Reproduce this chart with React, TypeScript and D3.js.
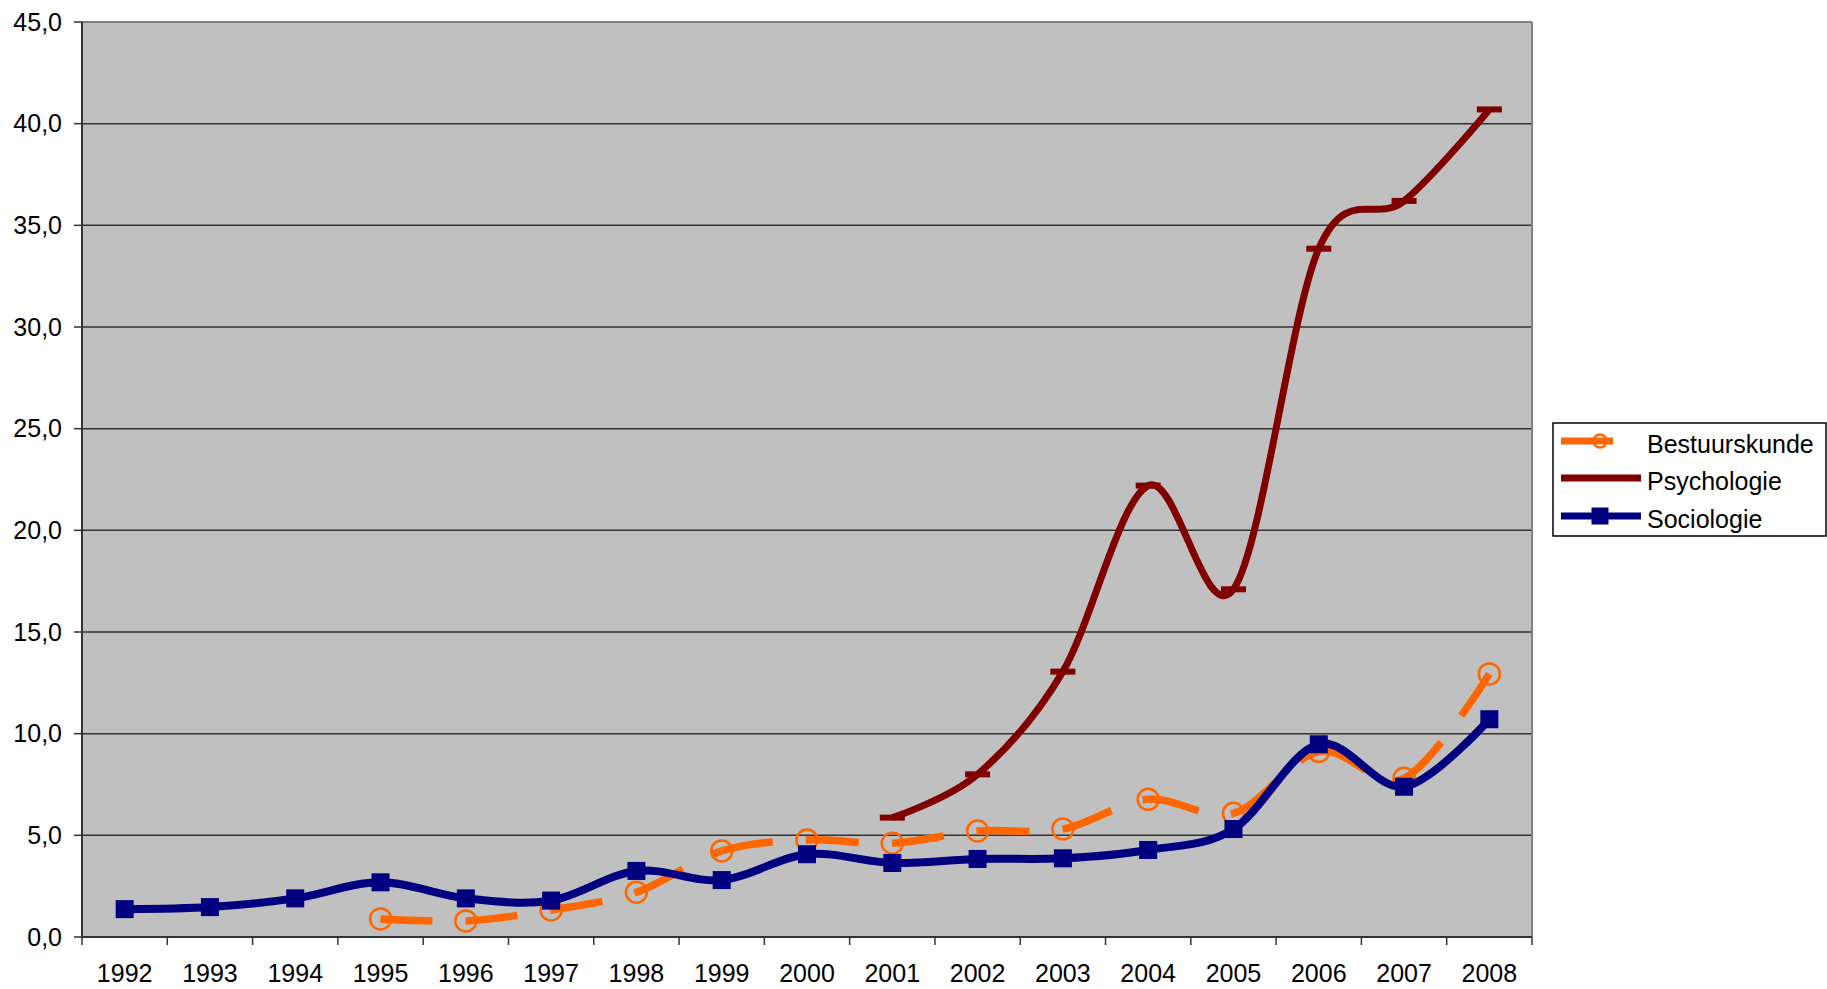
import React from "react";
import * as d3 from "d3";

const years = ["1992","1993","1994","1995","1996","1997","1998","1999","2000","2001","2002","2003","2004","2005","2006","2007","2008"];
const bestuurskunde: (number | null)[] = [null, null, null, 0.89, 0.79, 1.33, 2.2, 4.23, 4.77, 4.61, 5.21, 5.31, 6.77, 6.08, 9.12, 7.81, 12.94];
const psychologie: (number | null)[] = [null, null, null, null, null, null, null, null, null, 5.87, 8.0, 13.05, 22.2, 17.1, 33.85, 36.2, 40.7];
const sociologie: (number | null)[] = [1.37, 1.47, 1.9, 2.69, 1.9, 1.79, 3.25, 2.8, 4.07, 3.64, 3.84, 3.87, 4.28, 5.31, 9.48, 7.39, 10.71];
const yTicks = [0, 5, 10, 15, 20, 25, 30, 35, 40, 45];
const seriesNames = ["Bestuurskunde", "Psychologie", "Sociologie"];

const W = 1827, H = 989;
const PL = 82, PR = 1532, PT = 22, PB = 937;
const FONT = "'Liberation Sans', Arial, sans-serif";
const ORANGE = "#FF6600", MAROON = "#800000", NAVY = "#000080";

const x = d3.scaleBand<string>().domain(years).range([PL, PR]).padding(0);
const y = d3.scaleLinear().domain([0, 45]).range([PB, PT]);
const cx = (c: string) => (x(c) as number) + x.bandwidth() / 2;
const fmt = (v: number) => d3.format(".1f")(v).replace(".", ",");

function pts(vals: (number | null)[]): [number, number][] {
  const out: [number, number][] = [];
  vals.forEach((v, i) => { if (v !== null) out.push([cx(years[i]), y(v)]); });
  return out;
}

// Smoothed curve split into per-segment paths (dash pattern restarts per segment)
function segmentPaths(points: [number, number][]): string[] {
  const segs: string[] = [];
  let cur: [number, number] = [0, 0];
  const ctx: any = {
    moveTo(a: number, b: number) { cur = [a, b]; },
    lineTo(a: number, b: number) { segs.push(`M${cur[0]},${cur[1]}L${a},${b}`); cur = [a, b]; },
    bezierCurveTo(a: number, b: number, c: number, d: number, e: number, f: number) {
      segs.push(`M${cur[0]},${cur[1]}C${a},${b},${c},${d},${e},${f}`); cur = [e, f];
    },
    closePath() {},
    quadraticCurveTo() {},
    arc() {},
    rect() {},
    arcTo() {},
  };
  d3.line().curve(d3.curveCardinal.tension(0)).context(ctx)(points);
  return segs;
}

export default function App() {
  const bPts = pts(bestuurskunde);
  const pPts = pts(psychologie);
  const sPts = pts(sociologie);
  const bSegs = segmentPaths(bPts);
  const pSegs = segmentPaths(pPts);
  const sSegs = segmentPaths(sPts);
  const boundaries = [...years.map((c) => x(c) as number), PR];

  const LX = 1553, LY = 423, LW = 273, LH = 113;
  const legendRows = [441, 478, 516];

  return (
    <svg width={W} height={H} style={{ position: "absolute", left: 0, top: 0, background: "#fff" }} fontFamily={FONT}>
      <rect x={PL} y={PT} width={PR - PL} height={PB - PT} fill="#C0C0C0" />
      {yTicks.filter((t) => t > 0 && t < 45).map((t) => (
        <line key={t} x1={PL} x2={PR} y1={y(t)} y2={y(t)} stroke="#333" strokeWidth={1.5} />
      ))}
      {/* plot border top/right */}
      <line x1={PL} x2={PR} y1={PT} y2={PT} stroke="#808080" strokeWidth={2} />
      <line x1={PR} x2={PR} y1={PT} y2={PB} stroke="#808080" strokeWidth={2} />
      {/* axes */}
      <line x1={PL} x2={PL} y1={PT} y2={PB} stroke="#333" strokeWidth={2} />
      <line x1={PL} x2={PR} y1={PB} y2={PB} stroke="#333" strokeWidth={2} />
      {yTicks.map((t) => (
        <g key={t}>
          <line x1={PL - 8} x2={PL} y1={y(t)} y2={y(t)} stroke="#333" strokeWidth={1.5} />
          <text x={62} y={y(t)} dy="0.35em" textAnchor="end" fontSize={25} fill="#000">{fmt(t)}</text>
        </g>
      ))}
      {boundaries.map((b, i) => (
        <line key={i} x1={b} x2={b} y1={PB} y2={PB + 8} stroke="#333" strokeWidth={1.5} />
      ))}
      {years.map((c) => (
        <text key={c} x={cx(c)} y={982} textAnchor="middle" fontSize={25} fill="#000">{c}</text>
      ))}

      {/* Bestuurskunde */}
      {bPts.map((p, i) => (
        <circle key={i} cx={p[0]} cy={p[1]} r={10.5} fill="none" stroke={ORANGE} strokeWidth={2.5} />
      ))}
      {bSegs.map((d, i) => (
        <path key={i} d={d} fill="none" stroke={ORANGE} strokeWidth={7.5} strokeDasharray="52 33" />
      ))}

      {/* Psychologie */}
      {pSegs.map((d, i) => (
        <path key={i} d={d} fill="none" stroke={MAROON} strokeWidth={7} />
      ))}
      {pPts.map((p, i) => (
        <rect key={i} x={p[0] - 12.5} y={p[1] - 3} width={25} height={6} fill={MAROON} />
      ))}

      {/* Sociologie */}
      {sSegs.map((d, i) => (
        <path key={i} d={d} fill="none" stroke={NAVY} strokeWidth={8} />
      ))}
      {sPts.map((p, i) => (
        <rect key={i} x={p[0] - 9} y={p[1] - 9} width={18} height={18} fill={NAVY} />
      ))}

      {/* Legend */}
      <rect x={LX} y={LY} width={LW} height={LH} fill="#fff" stroke="#000" strokeWidth={1.5} />
      <line x1={1561} x2={1641} y1={legendRows[0]} y2={legendRows[0]} stroke={ORANGE} strokeWidth={7} strokeDasharray="52 33" />
      <circle cx={1600} cy={legendRows[0]} r={6.5} fill="none" stroke={ORANGE} strokeWidth={2.5} />
      <line x1={1561} x2={1641} y1={legendRows[1]} y2={legendRows[1]} stroke={MAROON} strokeWidth={7} />
      <line x1={1561} x2={1641} y1={legendRows[2]} y2={legendRows[2]} stroke={NAVY} strokeWidth={7} />
      <rect x={1600 - 8.5} y={legendRows[2] - 8.5} width={17} height={17} fill={NAVY} />
      {seriesNames.map((n, i) => (
        <text key={n} x={1647} y={legendRows[i] + 3} dy="0.36em" fontSize={25} fill="#000">{n}</text>
      ))}
    </svg>
  );
}
